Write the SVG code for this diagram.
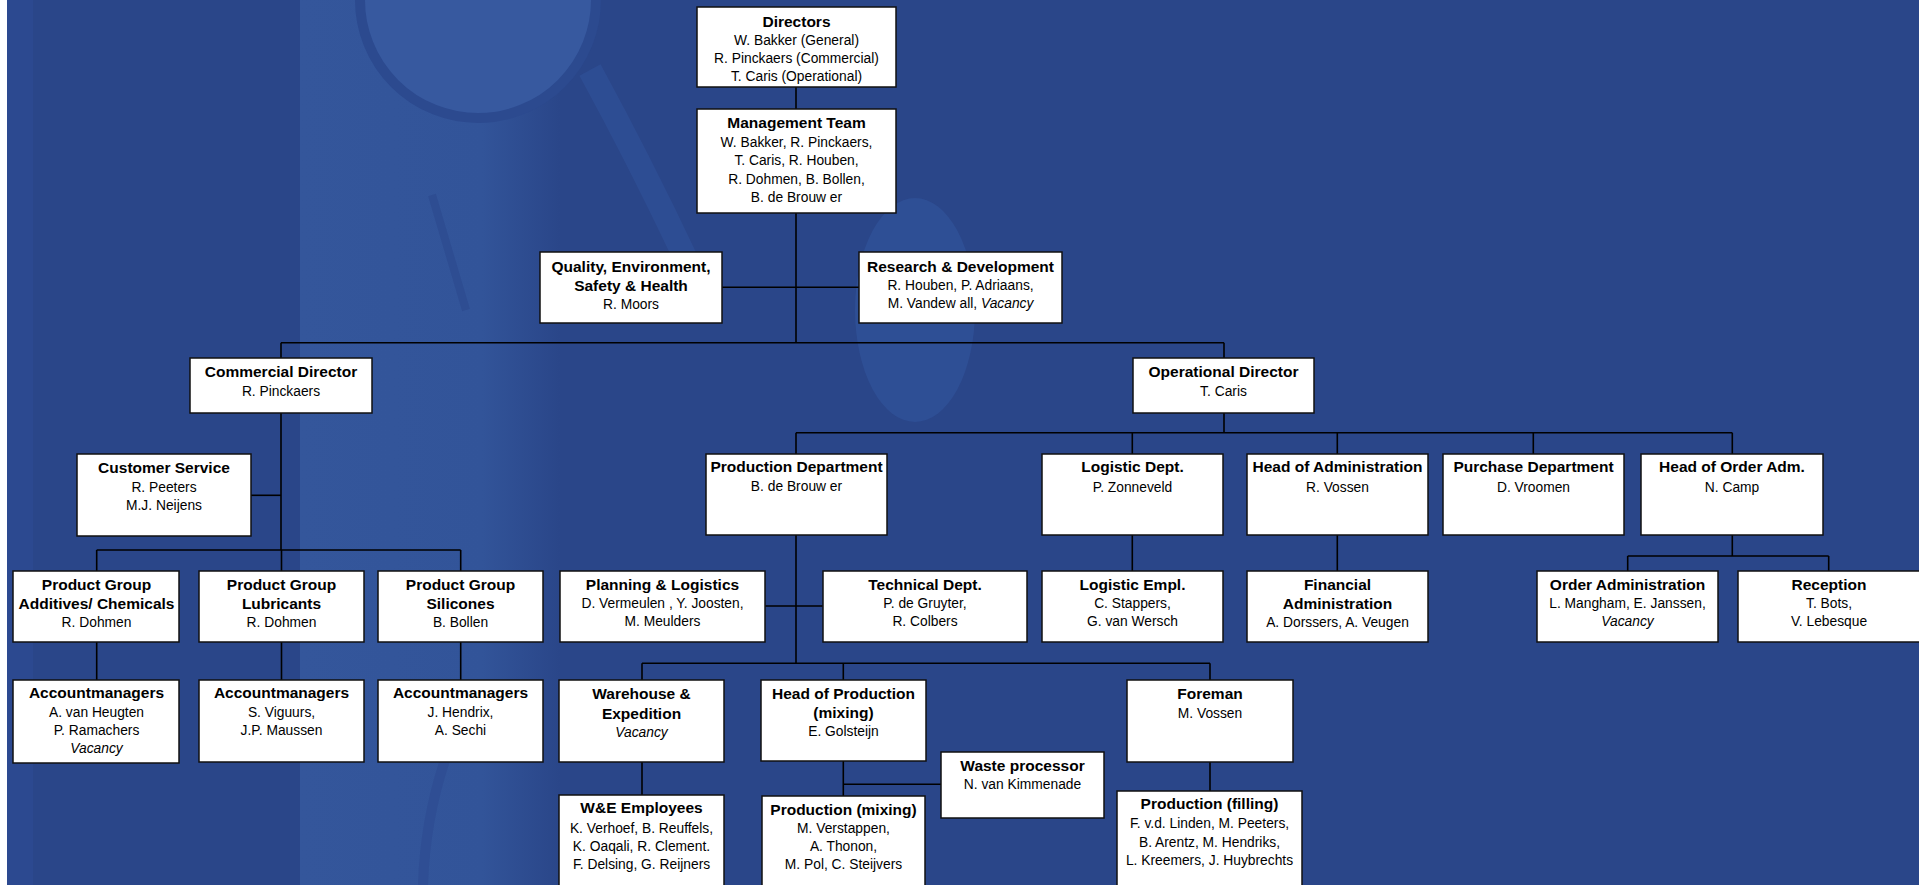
<svg xmlns="http://www.w3.org/2000/svg" width="1919" height="885" viewBox="0 0 1919 885">
<defs>
<style>
.box{fill:#fff;stroke:#111;stroke-width:1.5}
.ln{fill:none;stroke:#000;stroke-width:1.6}
text{font-family:"Liberation Sans",Arial,sans-serif;text-anchor:middle;fill:#000}
.b{font-size:15.5px;font-weight:bold}
.n{font-size:13.8px;font-weight:normal}
.i{font-style:italic}
</style>
<linearGradient id="band" x1="0" y1="0" x2="1" y2="0">
<stop offset="0" stop-color="#34569b"/>
<stop offset="0.7" stop-color="#325499"/>
<stop offset="1" stop-color="#2a4689"/>
</linearGradient>
</defs>
<g id="background">
<rect x="0" y="0" width="1919" height="885" fill="#2a4689"/>
<rect x="0" y="0" width="7" height="885" fill="#ffffff"/>
<rect x="7" y="0" width="26" height="885" fill="#2c4990"/>
<rect x="300" y="0" width="260" height="885" fill="url(#band)"/>
<circle cx="478" cy="0" r="118" fill="#37599f" stroke="#2c4a8f" stroke-width="10"/>
<path d="M590 70 Q650 180 705 300" stroke="#31529a" stroke-width="24" fill="none" opacity="0.6"/>
<path d="M432 195 L466 310" stroke="#2d4b90" stroke-width="8" fill="none" opacity="0.8"/>
<ellipse cx="915" cy="310" rx="60" ry="112" fill="#31539a" opacity="0.7"/>
<path d="M445 760 Q425 820 423 885" stroke="#2e4c92" stroke-width="10" fill="none" opacity="0.8"/>
</g>
<g id="connectors">
<path class="ln" d="M796 87V109"/>
<path class="ln" d="M796 213V343"/>
<path class="ln" d="M722 287.3H859"/>
<path class="ln" d="M281 342.7H1224"/>
<path class="ln" d="M281 342.7V358"/>
<path class="ln" d="M1224 342.7V358"/>
<path class="ln" d="M281 413V550"/>
<path class="ln" d="M251 495.3H281"/>
<path class="ln" d="M96.7 550H460.7"/>
<path class="ln" d="M96.7 550V571M281.5 550V571M460.7 550V571"/>
<path class="ln" d="M96.7 642V680M281.5 642V680M460.7 642V680"/>
<path class="ln" d="M1224 413V432.7"/>
<path class="ln" d="M796 432.7H1732.3"/>
<path class="ln" d="M796 432.7V454M1132.3 432.7V454M1337.3 432.7V454M1533.3 432.7V454M1732.3 432.7V454"/>
<path class="ln" d="M1132.3 535V571M1337.3 535V571"/>
<path class="ln" d="M1732.3 535V556M1627.7 556H1828.7M1627.7 556V571M1828.7 556V571"/>
<path class="ln" d="M796 535V663.3M765.3 606H822.7"/>
<path class="ln" d="M642 663.3H1210M642 663.3V680M843.3 663.3V680M1210 663.3V680"/>
<path class="ln" d="M642 762V795"/>
<path class="ln" d="M843.3 761V796M843.3 784.3H941"/>
<path class="ln" d="M1210 762V791"/>
</g>
<g id="nodes">
<g id="n-directors"><rect class="box" x="697" y="7" width="199" height="80"/>
<text x="796.5"><tspan class="b" y="26.5">Directors</tspan><tspan class="n" x="796.5" y="44.5">W. Bakker (General)</tspan><tspan class="n" x="796.5" y="62.5">R. Pinckaers (Commercial)</tspan><tspan class="n" x="796.5" y="80.5">T. Caris (Operational)</tspan></text></g>
<g id="n-management"><rect class="box" x="697" y="109" width="199" height="104"/>
<text x="796.5"><tspan class="b" y="128">Management Team</tspan><tspan class="n" x="796.5" y="146.5">W. Bakker, R. Pinckaers,</tspan><tspan class="n" x="796.5" y="165">T. Caris, R. Houben,</tspan><tspan class="n" x="796.5" y="183.5">R. Dohmen, B. Bollen,</tspan><tspan class="n" x="796.5" y="202">B. de Brouw er</tspan></text></g>
<g id="n-qesh"><rect class="box" x="540" y="252" width="182" height="71"/>
<text x="631"><tspan class="b" y="271.5">Quality, Environment,</tspan><tspan class="b" x="631" y="290.5">Safety &amp; Health</tspan><tspan class="n" x="631" y="309">R. Moors</tspan></text></g>
<g id="n-rd"><rect class="box" x="859" y="252" width="203" height="71"/>
<text x="960.5"><tspan class="b" y="271.5">Research &amp; Development</tspan><tspan class="n" x="960.5" y="290">R. Houben, P. Adriaans,</tspan><tspan class="n" x="960.5" y="308">M. Vandew all, <tspan class="i">Vacancy</tspan></tspan></text></g>
<g id="n-commercial"><rect class="box" x="190" y="358" width="182" height="55"/>
<text x="281"><tspan class="b" y="377.3">Commercial Director</tspan><tspan class="n" x="281" y="395.7">R. Pinckaers</tspan></text></g>
<g id="n-operational"><rect class="box" x="1133" y="358" width="181" height="55"/>
<text x="1223.5"><tspan class="b" y="377.3">Operational Director</tspan><tspan class="n" x="1223.5" y="395.7">T. Caris</tspan></text></g>
<g id="n-customer"><rect class="box" x="77" y="454" width="174" height="82"/>
<text x="164"><tspan class="b" y="472.5">Customer Service</tspan><tspan class="n" x="164" y="492">R. Peeters</tspan><tspan class="n" x="164" y="510">M.J. Neijens</tspan></text></g>
<g id="n-pg-additives"><rect class="box" x="13" y="571" width="166" height="71"/>
<text x="96.5"><tspan class="b" y="590">Product Group</tspan><tspan class="b" x="96.5" y="609">Additives/ Chemicals</tspan><tspan class="n" x="96.5" y="627.3">R. Dohmen</tspan></text></g>
<g id="n-pg-lubricants"><rect class="box" x="199" y="571" width="165" height="71"/>
<text x="281.5"><tspan class="b" y="590">Product Group</tspan><tspan class="b" x="281.5" y="609">Lubricants</tspan><tspan class="n" x="281.5" y="627.3">R. Dohmen</tspan></text></g>
<g id="n-pg-silicones"><rect class="box" x="378" y="571" width="165" height="71"/>
<text x="460.5"><tspan class="b" y="590">Product Group</tspan><tspan class="b" x="460.5" y="609">Silicones</tspan><tspan class="n" x="460.5" y="627.3">B. Bollen</tspan></text></g>
<g id="n-am-additives"><rect class="box" x="13" y="680" width="166" height="83"/>
<text x="96.5"><tspan class="b" y="698.3">Accountmanagers</tspan><tspan class="n" x="96.5" y="716.7">A. van Heugten</tspan><tspan class="n" x="96.5" y="735">P. Ramachers</tspan><tspan class="n i" x="96.5" y="753.3">Vacancy</tspan></text></g>
<g id="n-am-lubricants"><rect class="box" x="199" y="680" width="165" height="82"/>
<text x="281.5"><tspan class="b" y="698.3">Accountmanagers</tspan><tspan class="n" x="281.5" y="716.7">S. Viguurs,</tspan><tspan class="n" x="281.5" y="735">J.P. Maussen</tspan></text></g>
<g id="n-am-silicones"><rect class="box" x="378" y="680" width="165" height="82"/>
<text x="460.5"><tspan class="b" y="698.3">Accountmanagers</tspan><tspan class="n" x="460.5" y="716.7">J. Hendrix,</tspan><tspan class="n" x="460.5" y="735">A. Sechi</tspan></text></g>
<g id="n-production-dept"><rect class="box" x="706" y="454" width="181" height="81"/>
<text x="796.5"><tspan class="b" y="472">Production Department</tspan><tspan class="n" x="796.5" y="491">B. de Brouw er</tspan></text></g>
<g id="n-logistic-dept"><rect class="box" x="1042" y="454" width="181" height="81"/>
<text x="1132.5"><tspan class="b" y="472.3">Logistic Dept.</tspan><tspan class="n" x="1132.5" y="491.5">P. Zonneveld</tspan></text></g>
<g id="n-head-admin"><rect class="box" x="1247" y="454" width="181" height="81"/>
<text x="1337.5"><tspan class="b" y="472.3">Head of Administration</tspan><tspan class="n" x="1337.5" y="491.5">R. Vossen</tspan></text></g>
<g id="n-purchase"><rect class="box" x="1443" y="454" width="181" height="81"/>
<text x="1533.5"><tspan class="b" y="472.3">Purchase Department</tspan><tspan class="n" x="1533.5" y="491.5">D. Vroomen</tspan></text></g>
<g id="n-head-order"><rect class="box" x="1641" y="454" width="182" height="81"/>
<text x="1732"><tspan class="b" y="472.3">Head of Order Adm.</tspan><tspan class="n" x="1732" y="491.5">N. Camp</tspan></text></g>
<g id="n-planning"><rect class="box" x="560" y="571" width="205" height="71"/>
<text x="662.5"><tspan class="b" y="590">Planning &amp; Logistics</tspan><tspan class="n" x="662.5" y="608">D. Vermeulen , Y. Joosten,</tspan><tspan class="n" x="662.5" y="626">M. Meulders</tspan></text></g>
<g id="n-technical"><rect class="box" x="823" y="571" width="204" height="71"/>
<text x="925"><tspan class="b" y="590">Technical Dept.</tspan><tspan class="n" x="925" y="608">P. de Gruyter,</tspan><tspan class="n" x="925" y="626">R. Colbers</tspan></text></g>
<g id="n-logistic-empl"><rect class="box" x="1042" y="571" width="181" height="71"/>
<text x="1132.5"><tspan class="b" y="590">Logistic Empl.</tspan><tspan class="n" x="1132.5" y="608">C. Stappers,</tspan><tspan class="n" x="1132.5" y="626">G. van Wersch</tspan></text></g>
<g id="n-financial"><rect class="box" x="1247" y="571" width="181" height="71"/>
<text x="1337.5"><tspan class="b" y="590">Financial</tspan><tspan class="b" x="1337.5" y="609">Administration</tspan><tspan class="n" x="1337.5" y="627.3">A. Dorssers, A. Veugen</tspan></text></g>
<g id="n-order-admin"><rect class="box" x="1537" y="571" width="181" height="71"/>
<text x="1627.5"><tspan class="b" y="590">Order Administration</tspan><tspan class="n" x="1627.5" y="608">L. Mangham, E. Janssen,</tspan><tspan class="n i" x="1627.5" y="626">Vacancy</tspan></text></g>
<g id="n-reception"><rect class="box" x="1738" y="571" width="183" height="71"/>
<text x="1829"><tspan class="b" y="590">Reception</tspan><tspan class="n" x="1829" y="608">T. Bots,</tspan><tspan class="n" x="1829" y="626">V. Lebesque</tspan></text></g>
<g id="n-warehouse"><rect class="box" x="559" y="680" width="165" height="82"/>
<text x="641.5"><tspan class="b" y="699">Warehouse &amp;</tspan><tspan class="b" x="641.5" y="718.5">Expedition</tspan><tspan class="n i" x="641.5" y="737">Vacancy</tspan></text></g>
<g id="n-head-production"><rect class="box" x="761" y="680" width="165" height="81"/>
<text x="843.5"><tspan class="b" y="698.5">Head of Production</tspan><tspan class="b" x="843.5" y="718.3">(mixing)</tspan><tspan class="n" x="843.5" y="736">E. Golsteijn</tspan></text></g>
<g id="n-foreman"><rect class="box" x="1127" y="680" width="166" height="82"/>
<text x="1210"><tspan class="b" y="699">Foreman</tspan><tspan class="n" x="1210" y="717.5">M. Vossen</tspan></text></g>
<g id="n-we-employees"><rect class="box" x="559" y="795" width="165" height="95"/>
<text x="641.5"><tspan class="b" y="813.3">W&amp;E Employees</tspan><tspan class="n" x="641.5" y="832.7">K. Verhoef, B. Reuffels,</tspan><tspan class="n" x="641.5" y="850.7">K. Oaqali, R. Clement.</tspan><tspan class="n" x="641.5" y="868.7">F. Delsing, G. Reijners</tspan></text></g>
<g id="n-production-mixing"><rect class="box" x="762" y="796" width="163" height="95"/>
<text x="843.5"><tspan class="b" y="815">Production (mixing)</tspan><tspan class="n" x="843.5" y="833.3">M. Verstappen,</tspan><tspan class="n" x="843.5" y="851">A. Thonon,</tspan><tspan class="n" x="843.5" y="869.3">M. Pol, C. Steijvers</tspan></text></g>
<g id="n-waste"><rect class="box" x="941" y="752" width="163" height="66"/>
<text x="1022.5"><tspan class="b" y="770.7">Waste processor</tspan><tspan class="n" x="1022.5" y="789">N. van Kimmenade</tspan></text></g>
<g id="n-production-filling"><rect class="box" x="1117" y="791" width="185" height="100"/>
<text x="1209.5"><tspan class="b" y="809.3">Production (filling)</tspan><tspan class="n" x="1209.5" y="828.3">F. v.d. Linden, M. Peeters,</tspan><tspan class="n" x="1209.5" y="846.7">B. Arentz, M. Hendriks,</tspan><tspan class="n" x="1209.5" y="865">L. Kreemers, J. Huybrechts</tspan></text></g>
</g>
</svg>
